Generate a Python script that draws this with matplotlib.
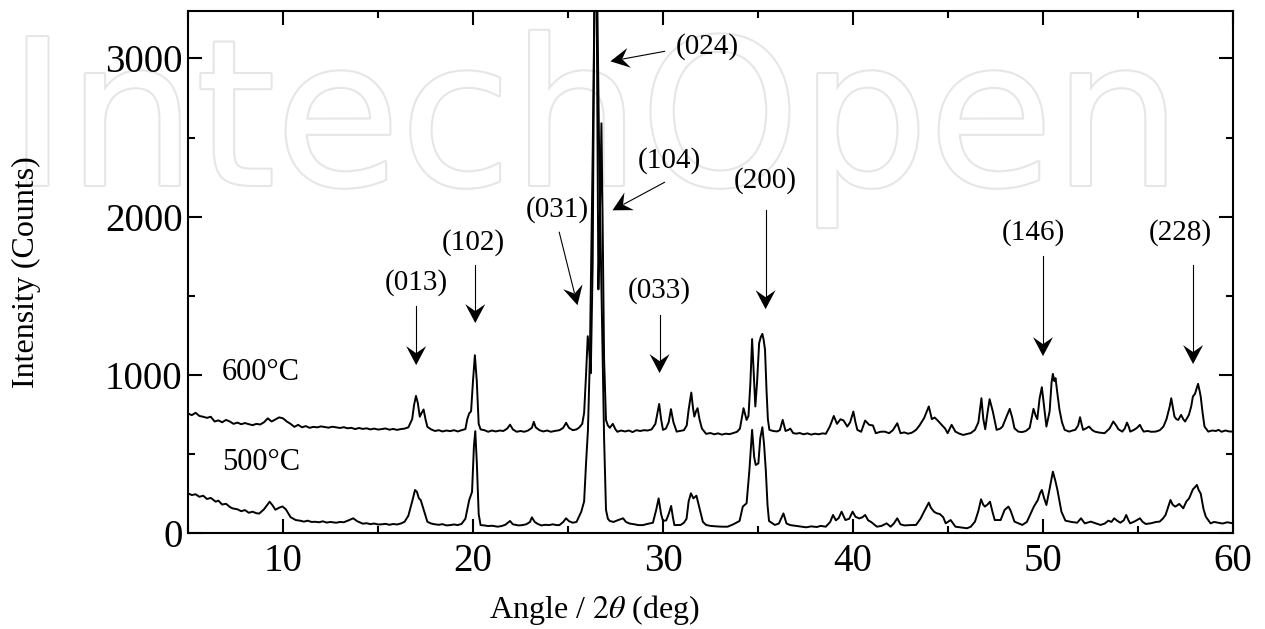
import numpy as np
import matplotlib
matplotlib.use("Agg")
import matplotlib.pyplot as plt
import matplotlib.patheffects as pe
from matplotlib.patches import Polygon
from matplotlib.ticker import MultipleLocator

plt.rcParams['font.family'] = ['Liberation Serif', 'DejaVu Serif']
plt.rcParams['mathtext.fontset'] = 'stix'

# 600 C pattern (2theta, counts)
angle_600 = [
    5.0, 5.2, 5.4, 5.6, 5.8, 6.0, 6.2, 6.4, 6.6, 6.8, 7.0, 7.2, 7.4, 7.6, 7.8, 8.0, 8.2, 8.4, 8.6, 8.8,
    9.0, 9.2, 9.4, 9.6, 9.8, 10.0, 10.2, 10.4, 10.6, 10.8, 11.0, 11.2, 11.4, 11.6, 11.8, 12.0, 12.2, 12.4,
    12.6, 12.8, 13.0, 13.2, 13.4, 13.6, 13.8, 14.0, 14.2, 14.4, 14.6, 14.8, 15.0, 15.2, 15.4, 15.6, 15.8,
    16.0, 16.2, 16.4, 16.6, 16.8, 16.9, 17.0, 17.1, 17.2, 17.3, 17.4, 17.5, 17.6, 17.8, 18.0, 18.2, 18.4,
    18.6, 18.8, 19.0, 19.2, 19.4, 19.6, 19.7, 19.8, 19.9, 20.0, 20.1, 20.2, 20.3, 20.4, 20.6, 20.8, 21.0,
    21.2, 21.4, 21.6, 21.8, 21.95, 22.1, 22.3, 22.5, 22.7, 22.9, 23.1, 23.2, 23.3, 23.5, 23.7, 23.9, 24.1,
    24.3, 24.55, 24.75, 24.9, 25.05, 25.25, 25.45, 25.6, 25.75, 25.85, 25.95, 26.04, 26.12, 26.2, 26.3,
    26.4, 26.5, 26.6, 26.68, 26.76, 26.82, 26.9, 27.0, 27.1, 27.2, 27.36, 27.5, 27.6, 27.8, 28.0, 28.2,
    28.4, 28.6, 28.8, 29.0, 29.2, 29.4, 29.6, 29.8, 29.9, 30.0, 30.15, 30.3, 30.42, 30.55, 30.72, 30.9,
    31.1, 31.25, 31.35, 31.49, 31.58, 31.65, 31.74, 31.82, 31.92, 32.05, 32.27, 32.5, 32.7, 32.9, 33.1,
    33.3, 33.5, 33.7, 33.9, 34.05, 34.24, 34.4, 34.5, 34.6, 34.69, 34.78, 34.86, 34.95, 35.06, 35.15,
    35.23, 35.3, 35.37, 35.45, 35.52, 35.6, 35.8, 36.0, 36.15, 36.3, 36.45, 36.6, 36.7, 36.85, 37.0, 37.2,
    37.4, 37.6, 37.8, 38.0, 38.2, 38.4, 38.57, 38.78, 38.99, 39.16, 39.34, 39.5, 39.7, 39.85, 40.02,
    40.13, 40.23, 40.43, 40.64, 40.85, 41.05, 41.2, 41.45, 41.67, 41.9, 42.1, 42.33, 42.5, 42.7, 42.9,
    43.1, 43.32, 43.5, 43.74, 43.99, 44.15, 44.3, 44.46, 44.67, 44.85, 44.98, 45.19, 45.39, 45.6, 45.8,
    46.0, 46.2, 46.42, 46.6, 46.76, 46.86, 46.96, 47.08, 47.19, 47.36, 47.56, 47.75, 47.87, 48.08, 48.25,
    48.38, 48.5, 48.7, 48.9, 49.1, 49.3, 49.5, 49.62, 49.7, 49.82, 49.94, 50.06, 50.18, 50.35, 50.45,
    50.52, 50.6, 50.66, 50.76, 50.87, 51.0, 51.14, 51.38, 51.55, 51.7, 51.85, 51.95, 52.05, 52.11, 52.25,
    52.42, 52.6, 52.73, 52.95, 53.24, 53.5, 53.7, 53.85, 53.97, 54.17, 54.3, 54.42, 54.52, 54.59, 54.79,
    54.95, 55.1, 55.2, 55.3, 55.5, 55.7, 55.93, 56.15, 56.34, 56.5, 56.58, 56.67, 56.75, 56.84, 56.92,
    57.02, 57.12, 57.27, 57.38, 57.48, 57.6, 57.68, 57.8, 57.89, 58.0, 58.16, 58.24, 58.3, 58.4, 58.5,
    58.7, 58.9, 59.1, 59.24, 59.4, 59.6, 59.8, 60.0]
counts_600 = [
    756, 745, 760, 740, 735, 728, 735, 705, 712, 700, 715, 705, 690, 698, 688, 695, 688, 682, 690, 686,
    700, 725, 705, 718, 731, 725, 705, 690, 671, 684, 668, 676, 665, 671, 668, 674, 670, 666,
    672, 668, 664, 669, 662, 665, 657, 664, 658, 662, 655, 660, 654, 657, 661, 653, 658,
    652, 657, 660, 668, 720, 810, 867, 820, 735, 760, 781, 720, 671, 655, 645, 650, 642,
    648, 644, 650, 642, 650, 657, 720, 756, 770, 960, 1124, 960, 690, 655, 650, 640, 648,
    642, 648, 645, 660, 685, 655, 640, 645, 640, 648, 665, 703, 668, 650, 642, 648, 640,
    645, 650, 665, 697, 665, 650, 655, 668, 690, 760, 1000, 1244, 1150, 1010, 1700,
    3600, 3600, 1540, 2000, 2590, 2000, 1100, 714, 680, 665, 690, 655, 640, 648, 642, 648,
    638, 650, 645, 650, 648, 655, 690, 816, 720, 652, 660, 700, 783, 700, 641, 645,
    650, 680, 780, 888, 790, 736, 770, 789, 720, 660, 627, 632, 624, 630, 622,
    628, 625, 632, 640, 660, 789, 715, 740, 950, 1226, 1000, 800, 950, 1200, 1240,
    1259, 1220, 1158, 900, 720, 652, 645, 642, 650, 715, 645, 652, 660, 632, 628, 632,
    624, 630, 622, 628, 624, 630, 627, 673, 740, 690, 719, 712, 673, 700, 768,
    700, 652, 640, 711, 684, 680, 631, 640, 641, 631, 650, 694, 631, 636, 628,
    634, 652, 680, 726, 800, 720, 730, 711, 684, 660, 631, 684, 641, 628, 620,
    626, 632, 652, 700, 852, 720, 656, 760, 846, 768, 652, 660, 673, 736, 785,
    730, 662, 641, 638, 645, 665, 785, 740, 720, 850, 922, 800, 673, 770, 950,
    1006, 960, 979, 880, 778, 700, 652, 641, 648, 652, 680, 732, 680, 652, 660,
    673, 650, 641, 635, 631, 660, 705, 680, 656, 641, 660, 698, 670, 641, 652,
    665, 684, 660, 641, 645, 640, 641, 650, 673, 720, 757, 800, 852, 790, 736,
    720, 715, 747, 720, 705, 730, 747, 800, 863, 880, 943, 900, 863, 760, 673,
    641, 648, 645, 652, 640, 648, 642, 641]

# 500 C pattern (2theta, counts)
angle_500 = [
    5.0, 5.2, 5.4, 5.6, 5.8, 6.0, 6.2, 6.46, 6.6, 6.8, 7.0, 7.2, 7.34, 7.6, 7.8, 8.0, 8.2, 8.4, 8.6, 8.75,
    9.0, 9.3, 9.45, 9.6, 9.8, 9.97, 10.15, 10.4, 10.67, 10.9, 11.1, 11.3, 11.5, 11.7, 11.9, 12.1, 12.3,
    12.5, 12.8, 13.0, 13.2, 13.45, 13.7, 13.9, 14.2, 14.4, 14.6, 14.8, 15.0, 15.2, 15.4, 15.6, 15.8, 16.0,
    16.2, 16.4, 16.6, 16.8, 16.95, 17.05, 17.15, 17.25, 17.4, 17.6, 17.8, 18.0, 18.2, 18.4, 18.6, 18.8,
    19.0, 19.2, 19.4, 19.6, 19.8, 19.95, 20.05, 20.12, 20.2, 20.3, 20.4, 20.6, 20.8, 21.0, 21.3, 21.5,
    21.7, 21.95, 22.1, 22.4, 22.6, 22.8, 23.0, 23.1, 23.25, 23.4, 23.6, 23.8, 24.0, 24.2, 24.4, 24.55,
    24.75, 24.9, 25.05, 25.25, 25.45, 25.7, 25.85, 25.95, 26.05, 26.15, 26.3, 26.42, 26.52, 26.65, 26.8,
    26.9, 27.0, 27.1, 27.2, 27.4, 27.6, 27.9, 28.05, 28.24, 28.5, 28.7, 28.94, 29.2, 29.47, 29.65, 29.77,
    29.9, 30.0, 30.17, 30.3, 30.43, 30.52, 30.6, 30.93, 31.1, 31.24, 31.35, 31.47, 31.6, 31.76, 31.97,
    32.1, 32.27, 32.5, 32.8, 33.1, 33.4, 33.7, 34.03, 34.2, 34.4, 34.55, 34.69, 34.8, 34.88, 35.02, 35.12,
    35.23, 35.32, 35.41, 35.5, 35.58, 35.89, 36.1, 36.34, 36.5, 36.7, 37.0, 37.3, 37.54, 37.8, 38.1, 38.3,
    38.57, 38.8, 38.95, 39.1, 39.25, 39.4, 39.6, 39.8, 39.98, 40.13, 40.33, 40.5, 40.64, 40.8, 40.95,
    41.26, 41.5, 41.77, 41.98, 42.15, 42.33, 42.5, 42.7, 43.0, 43.32, 43.55, 43.74, 43.99, 44.1, 44.26,
    44.4, 44.57, 44.75, 44.88, 45.14, 45.39, 45.7, 46.0, 46.2, 46.42, 46.6, 46.74, 46.85, 46.94, 47.08,
    47.21, 47.35, 47.46, 47.77, 47.98, 48.18, 48.3, 48.5, 48.91, 49.15, 49.32, 49.52, 49.73, 49.84, 49.94,
    50.06, 50.18, 50.35, 50.52, 50.65, 50.76, 50.97, 51.18, 51.5, 51.8, 52.0, 52.2, 52.52, 52.8, 53.03,
    53.25, 53.44, 53.6, 53.75, 53.9, 54.07, 54.25, 54.38, 54.5, 54.59, 54.85, 55.1, 55.25, 55.41, 55.7,
    55.95, 56.14, 56.3, 56.45, 56.6, 56.71, 56.82, 56.96, 57.07, 57.17, 57.28, 57.38, 57.55, 57.69, 57.89,
    58.0, 58.1, 58.2, 58.3, 58.45, 58.57, 58.82, 59.0, 59.24, 59.45, 59.7, 60.0]
counts_500 = [
    251, 240, 245, 229, 236, 215, 222, 198, 205, 180, 185, 165, 156, 150, 138, 145, 128, 135, 125, 123,
    150, 198, 175, 147, 160, 168, 150, 100, 82, 78, 72, 78, 70, 71, 68, 74, 66,
    70, 65, 70, 68, 80, 93, 75, 59, 62, 56, 60, 54, 55, 58, 52, 57, 54,
    60, 71, 110, 200, 272, 260, 220, 208, 150, 71, 60, 55, 52, 56, 48, 50,
    54, 50, 58, 90, 208, 260, 550, 644, 450, 120, 50, 48, 44, 46, 40, 44,
    52, 76, 55, 48, 50, 55, 70, 99, 70, 58, 48, 52, 50, 55, 50, 50,
    70, 93, 75, 65, 70, 135, 200, 440, 650, 1100, 2400, 3600, 3600, 2300, 1300,
    600, 147, 90, 76, 70, 80, 93, 70, 60, 55, 50, 50, 58, 65, 150, 219,
    120, 76, 80, 120, 171, 100, 50, 51, 65, 90, 200, 251, 219, 236, 135,
    70, 51, 45, 42, 40, 40, 55, 76, 167, 188, 400, 652, 480, 430, 440, 600,
    669, 560, 400, 180, 76, 51, 60, 124, 60, 50, 45, 40, 36, 42, 38, 45,
    40, 70, 114, 80, 95, 135, 82, 90, 135, 103, 92, 100, 114, 80, 70,
    40, 45, 61, 40, 60, 93, 55, 48, 50, 51, 90, 135, 192, 160, 135,
    125, 120, 100, 61, 82, 40, 35, 30, 40, 72, 140, 213, 180, 167, 180,
    198, 130, 82, 82, 146, 167, 140, 72, 51, 70, 114, 167, 209, 250, 272,
    220, 177, 280, 388, 330, 272, 135, 78, 70, 65, 93, 61, 72, 60, 51,
    60, 78, 70, 93, 78, 65, 80, 114, 80, 61, 75, 93, 70, 57, 62,
    70, 72, 90, 114, 170, 209, 180, 167, 175, 184, 170, 156, 200, 219, 276,
    290, 304, 270, 250, 150, 103, 61, 70, 65, 60, 68, 61]

temps = ['600°C', '500°C']
peak_names = ['(013)', '(102)', '(031)', '(104)', '(024)', '(033)', '(200)', '(146)', '(228)']


def stealth_arrow(ax, start, tip, length=19, half=10, notch=12):
    # thin line with a filled, notched arrow head (sizes in pixels)
    p0 = ax.transData.transform(start)
    p1 = ax.transData.transform(tip)
    d = (p1 - p0) / np.hypot(*(p1 - p0))
    n = np.array([-d[1], d[0]])
    back = p1 - d * length
    head = [p1, back + n * half, p1 - d * notch, back - n * half]
    head = ax.transData.inverted().transform(head)
    ax.add_patch(Polygon(head, closed=True, facecolor='black', edgecolor='none', clip_on=False))
    neck = ax.transData.inverted().transform(p1 - d * (notch + 1))
    ax.plot([start[0], neck[0]], [start[1], neck[1]], color='black', lw=0.8, clip_on=False)


fig = plt.figure(figsize=(12.65, 6.29), dpi=100)
ax = fig.add_axes([0.1486, 0.1526, 0.8261, 0.8299])
ax.set_facecolor('none')

# watermark behind the axes
fig.text(0.006, 0.706, 'IntechOpen', fontsize=146, family='DejaVu Sans', color='white',
         va='baseline', ha='left', zorder=-5,
         path_effects=[pe.withStroke(linewidth=3, foreground='#e6e6e6')])

ax.plot(angle_600, counts_600, color='black', lw=1.4)
ax.plot(angle_500, counts_500, color='black', lw=1.4)

ax.set_xlim(5, 60)
ax.set_ylim(0, 3300)
ax.xaxis.set_major_locator(MultipleLocator(10))
ax.xaxis.set_minor_locator(MultipleLocator(5))
ax.yaxis.set_major_locator(MultipleLocator(1000))
ax.yaxis.set_minor_locator(MultipleLocator(500))
ax.tick_params(which='both', direction='in', top=True, right=True, width=1.5)
ax.tick_params(which='major', length=10, labelsize=28)
ax.tick_params(axis='x', which='major', pad=7)
ax.tick_params(axis='y', which='major', pad=4)
ax.tick_params(which='minor', length=5)
for s in ax.spines.values():
    s.set_linewidth(1.5)

fig.text(0.021, 0.567, 'Intensity (Counts)', rotation=90, fontsize=23, ha='center', va='center')
fig.text(0.470, 0.030, r'Angle / $\mathit{2\theta}$ (deg)', fontsize=23, ha='center', va='center')

ax.text(6.79, 1017, temps[0], fontsize=22, ha='left', va='center')
ax.text(6.79, 448, temps[1], fontsize=22, ha='left', va='center')

# label position, arrow start, arrow tip
labels = [
    ((17.0, 1586), (17.01, 1434), (17.01, 1061)),
    ((20.0, 1838), (20.12, 1693), (20.12, 1327)),
    ((24.44, 2047), (24.54, 1901), (25.50, 1440)),
    ((30.34, 2356), (30.08, 2217), (27.34, 2040)),
    ((32.34, 3076), (30.08, 3045), (27.23, 2982)),
    ((29.82, 1535), (29.82, 1377), (29.82, 1011)),
    ((35.37, 2230), (35.40, 2040), (35.40, 1415)),
    ((49.47, 1901), (50.0, 1750), (50.0, 1118)),
    ((57.21, 1901), (57.90, 1693), (57.90, 1068)),
]
for name, (lab, start, tip) in zip(peak_names, labels):
    ax.text(lab[0], lab[1], name, fontsize=21, ha='center', va='center')
    stealth_arrow(ax, start, tip)

fig.savefig('out.png', dpi=100, facecolor='white')
